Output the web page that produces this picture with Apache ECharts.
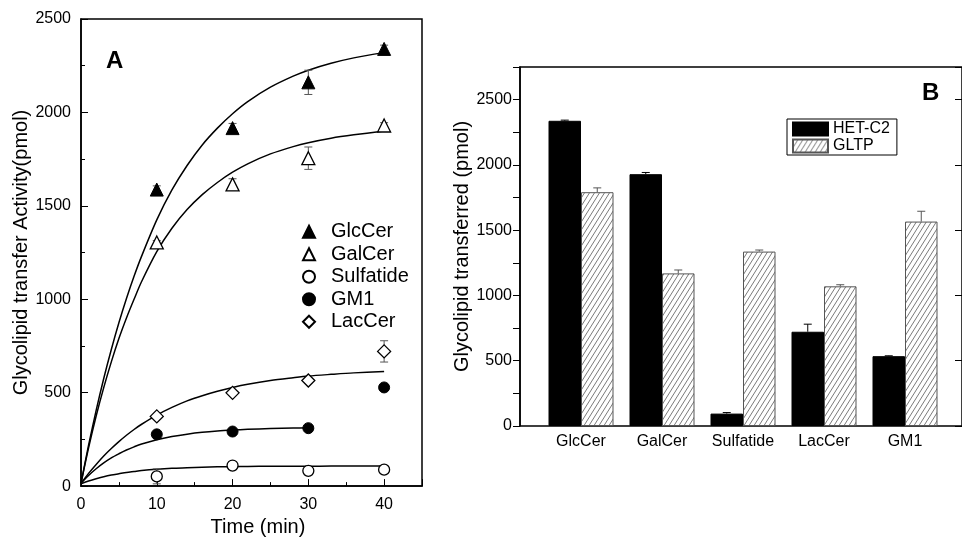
<!DOCTYPE html>
<html><head><meta charset="utf-8">
<script src="https://cdn.jsdelivr.net/npm/echarts@6/dist/echarts.min.js"></script>
<style>html,body{margin:0;padding:0;background:#fff}#c{width:962px;height:542px}</style>
</head><body><div id="c"></div>
<script>
// ---------- Panel A data ----------
const times = [10, 20, 30, 40];
const glcCer = [1587, 1916, 2161, 2340];
const glcCerErr = [20, 25, 65, 20];
const galCer = [1304, 1615, 1755, 1930];
const galCerErr = [10, 30, 60, 15];
const sulfatide = [52, 110, 82, 88];
const sulfatideErr = [40, 12, 8, 10];
const gm1 = [277, 292, 310, 528];
const gm1Err = [8, 8, 8, 8];
const lacCer = [373, 499, 565, 721];
const lacCerErr = [12, 12, 12, 57];
// fitted curves
const curveX = [0,1,2,3,4,5,6,7,8,10,12,14,16,18,20,22,25,28,30,33,36,40];
const glcFit = [15,219,405,576,731,874,1004,1123,1231,1425,1585,1716,1826,1916,1993,2058,2135,2194,2226,2263,2292,2320];
const galFit = [15,205,375,527,665,790,900,1000,1095,1255,1380,1480,1560,1625,1680,1725,1778,1817,1838,1862,1880,1900];
const lacFit = [15,68,116,161,201,238,272,303,331,380,421,456,484,508,528,545,565,580,589,598,606,613];
const gm1Fit = [15,57,93,124,151,173,193,210,225,248,265,278,288,295,300,304,308,311,312];
const sulfFit = [12,27,39,50,59,66,73,78,83,90,95,98,101,103,104,105,106,106,106,107,107,107];

// ---------- Panel B data ----------
const lipids = ['GlcCer', 'GalCer', 'Sulfatide', 'LacCer', 'GM1'];
const hetC2 = [2338, 1929, 95, 722, 535];
const hetC2Err = [5, 13, 8, 58, 3];
const gltp = [1791, 1169, 1336, 1070, 1566];
const gltpErr = [33, 26, 12, 12, 79];

const FONT = "'Liberation Sans', Arial, sans-serif";

// hatch pattern
function makeHatch() {
  const w = 5, h = 8;
  const c = document.createElement('canvas');
  c.width = w; c.height = h;
  const g = c.getContext('2d');
  g.fillStyle = '#fff'; g.fillRect(0, 0, w, h);
  g.strokeStyle = '#7a7a7a'; g.lineWidth = 1;
  for (const dx of [-w, 0, w]) {
    g.beginPath();
    g.moveTo(dx - w, 2 * h); g.lineTo(dx + 2 * w, -h);
    g.stroke();
  }
  return c;
}
const hatch = { image: makeHatch(), repeat: 'repeat' };

function pairs(xs, ys) { return ys.map((y, i) => [xs[i], y]); }
function triples(xs, ys, es) { return ys.map((y, i) => [xs[i], y, es[i]]); }

const errA = [].concat(
  triples(times, glcCer, glcCerErr),
  triples(times, galCer, galCerErr),
  triples(times, sulfatide, sulfatideErr),
  triples(times, gm1, gm1Err),
  triples(times, lacCer, lacCerErr)
);

const errB = [].concat(
  hetC2.map((v, i) => [i, v, hetC2Err[i], 0]),
  gltp.map((v, i) => [i, v, gltpErr[i], 1])
);

const BARW = 32.5;

function renderErrA(params, api) {
  const x = api.value(0), y = api.value(1), e = api.value(2);
  const t = api.coord([x, y + e]), b = api.coord([x, y - e]);
  const hw = 4, st = { stroke: '#555', lineWidth: 1 };
  return { type: 'group', children: [
    { type: 'line', shape: { x1: t[0], y1: t[1], x2: b[0], y2: b[1] }, style: st },
    { type: 'line', shape: { x1: t[0] - hw, y1: t[1], x2: t[0] + hw, y2: t[1] }, style: st },
    { type: 'line', shape: { x1: b[0] - hw, y1: b[1], x2: b[0] + hw, y2: b[1] }, style: st }
  ]};
}
function renderErrB(params, api) {
  const i = api.value(0), v = api.value(1), e = api.value(2), s = api.value(3);
  const off = s === 0 ? -BARW / 2 : BARW / 2;
  const p = api.coord([i, v]), t = api.coord([i, v + e]);
  const x = p[0] + off, hw = 4;
  const st = { stroke: s === 0 ? '#000' : '#555', lineWidth: 1 };
  return { type: 'group', children: [
    { type: 'line', shape: { x1: x, y1: p[1], x2: x, y2: t[1] }, style: st },
    { type: 'line', shape: { x1: x - hw, y1: t[1], x2: x + hw, y2: t[1] }, style: st }
  ]};
}

const lineStyleFit = { color: '#000', width: 1.5 };
function fit(name, xs, ys) {
  return { name: name, type: 'line', xAxisIndex: 0, yAxisIndex: 0, data: pairs(xs, ys),
    smooth: 0.3, showSymbol: false, symbol: 'none', lineStyle: lineStyleFit, silent: true, z: 2 };
}
function pts(name, ys, symbol, size, filled) {
  return { name: name, type: 'scatter', xAxisIndex: 0, yAxisIndex: 0, data: pairs(times, ys),
    symbol: symbol, symbolSize: size, z: 5,
    itemStyle: filled ? { color: '#000', borderColor: '#000', borderWidth: 1, opacity: 1 }
                      : { color: '#fff', borderColor: '#000', borderWidth: 1.3, opacity: 1 } };
}

const chart = echarts.init(document.getElementById('c'), null, { renderer: 'canvas' });
chart.setOption({
  animation: false,
  backgroundColor: '#fff',
  textStyle: { fontFamily: FONT, color: '#000' },
  grid: [
    { left: 81, top: 19, width: 341, height: 476, show: true, borderColor: '#000', borderWidth: 1.5, backgroundColor: 'transparent' },
    { left: 520, top: 67, width: 444, height: 359, show: true, borderColor: '#000', borderWidth: 1.5, backgroundColor: 'transparent' },
    { left: 540.5, top: 67, width: 405, height: 359 }
  ],
  xAxis: [
    { gridIndex: 0, type: 'value', min: 0, max: 45, interval: 10,
      axisLine: { lineStyle: { color: '#000', width: 1.5 } },
      axisTick: { inside: true, length: 7, lineStyle: { color: '#000' } },
      axisLabel: { fontSize: 16, color: '#000', margin: 10, fontFamily: FONT,
        formatter: v => (v % 10 === 0 ? String(v) : '') },
      splitLine: { show: false },
      name: 'Time (min)', nameLocation: 'middle', nameGap: 25,
      nameTextStyle: { fontSize: 20, color: '#000', fontFamily: FONT, padding: [0, 0, 0, 13] } },
    { gridIndex: 0, type: 'value', min: 0, max: 45, interval: 5, position: 'bottom',
      axisLine: { show: false }, axisTick: { inside: true, length: 4, lineStyle: { color: '#000' } },
      axisLabel: { show: false }, splitLine: { show: false } },
    { gridIndex: 1, type: 'value', min: 0, max: 1, show: false },
    { gridIndex: 2, type: 'category', data: lipids,
      axisLine: { show: false }, axisTick: { show: false },
      axisLabel: { fontSize: 16, color: '#000', margin: 8, fontFamily: FONT }, splitLine: { show: false } }
  ],
  yAxis: [
    { gridIndex: 0, type: 'value', min: 0, max: 2500, interval: 500,
      axisLine: { show: true, lineStyle: { color: '#000', width: 1.5 } },
      axisTick: { show: true, inside: true, length: 7, lineStyle: { color: '#000' } },
      minorTick: { show: true, splitNumber: 2, length: 4, lineStyle: { color: '#000' } },
      axisLabel: { fontSize: 16, color: '#000', margin: 10, fontFamily: FONT, formatter: v => String(v) },
      splitLine: { show: false },
      name: 'Glycolipid transfer Activity(pmol)', nameLocation: 'middle', nameGap: 42,
      nameTextStyle: { fontSize: 20, color: '#000', fontFamily: FONT } },
    { gridIndex: 1, type: 'value', min: 0, max: 2750, interval: 250,
      axisLine: { show: true, lineStyle: { color: '#000', width: 1.5 } },
      axisTick: { show: true, inside: false, length: 7, lineStyle: { color: '#000' } },
      axisLabel: { fontSize: 16, color: '#000', margin: 8, fontFamily: FONT,
        formatter: v => (v % 500 === 0 ? String(v) : '') },
      splitLine: { show: false },
      name: 'Glycolipid transferred (pmol)', nameLocation: 'middle', nameGap: 44,
      nameTextStyle: { fontSize: 20, color: '#000', fontFamily: FONT } },
    { gridIndex: 1, type: 'value', min: 0, max: 2750, interval: 500, position: 'right',
      axisLine: { show: false },
      axisTick: { show: true, inside: true, length: 7, lineStyle: { color: '#000' } },
      axisLabel: { show: false }, splitLine: { show: false } },
    { gridIndex: 2, type: 'value', min: 0, max: 2750, show: false }
  ],
  legend: [
    { data: ['GlcCer', 'GalCer', 'Sulfatide', 'GM1', 'LacCer'], orient: 'vertical',
      left: 302, top: 220.5, padding: 0, itemGap: 0, itemWidth: 12, itemHeight: 12,
      textStyle: { fontSize: 20, color: '#000', fontFamily: FONT, lineHeight: 22.5, padding: [0, 0, 0, 11] },
      selectedMode: false },
    { data: ['HET-C2', 'GLTP'], orient: 'vertical', left: 787, top: 119,
      padding: [2, 7, 1, 5], itemGap: 1, itemWidth: 35, itemHeight: 13, icon: 'rect',
      borderColor: '#000', borderWidth: 1, backgroundColor: '#fff',
      textStyle: { fontSize: 16, color: '#000', fontFamily: FONT, lineHeight: 14 },
      selectedMode: false }
  ],
  graphic: [
    { type: 'text', left: 106, top: 49, style: { text: 'A', font: 'bold 24px ' + FONT, fill: '#000' } },
    { type: 'text', left: 922, top: 81, style: { text: 'B', font: 'bold 24px ' + FONT, fill: '#000' } }
  ],
  series: [
    fit('GlcCer fit', curveX, glcFit),
    fit('GalCer fit', curveX, galFit),
    fit('LacCer fit', curveX, lacFit),
    fit('GM1 fit', curveX.slice(0, gm1Fit.length), gm1Fit),
    fit('Sulfatide fit', curveX, sulfFit),
    { name: 'errA', type: 'custom', xAxisIndex: 0, yAxisIndex: 0, data: errA,
      encode: { x: 0, y: 1 }, renderItem: renderErrA, z: 3, silent: true },
    pts('GlcCer', glcCer, 'triangle', 13, true),
    pts('GalCer', galCer, 'triangle', 13, false),
    pts('Sulfatide', sulfatide, 'circle', 11, false),
    pts('GM1', gm1, 'circle', 11, true),
    pts('LacCer', lacCer, 'diamond', 13, false),
    { name: 'HET-C2', type: 'bar', xAxisIndex: 3, yAxisIndex: 3, data: hetC2,
      barWidth: BARW, barGap: '0%', itemStyle: { color: '#000', borderColor: '#000', borderWidth: 1 }, z: 2 },
    { name: 'GLTP', type: 'bar', xAxisIndex: 3, yAxisIndex: 3, data: gltp,
      barWidth: BARW, barGap: '0%', itemStyle: { color: hatch, borderColor: '#555', borderWidth: 1 }, z: 2 },
    { name: 'errB', type: 'custom', xAxisIndex: 3, yAxisIndex: 3, data: errB,
      encode: { x: 0, y: 1 }, renderItem: renderErrB, z: 4, silent: true }
  ]
});
</script>
</body></html>
